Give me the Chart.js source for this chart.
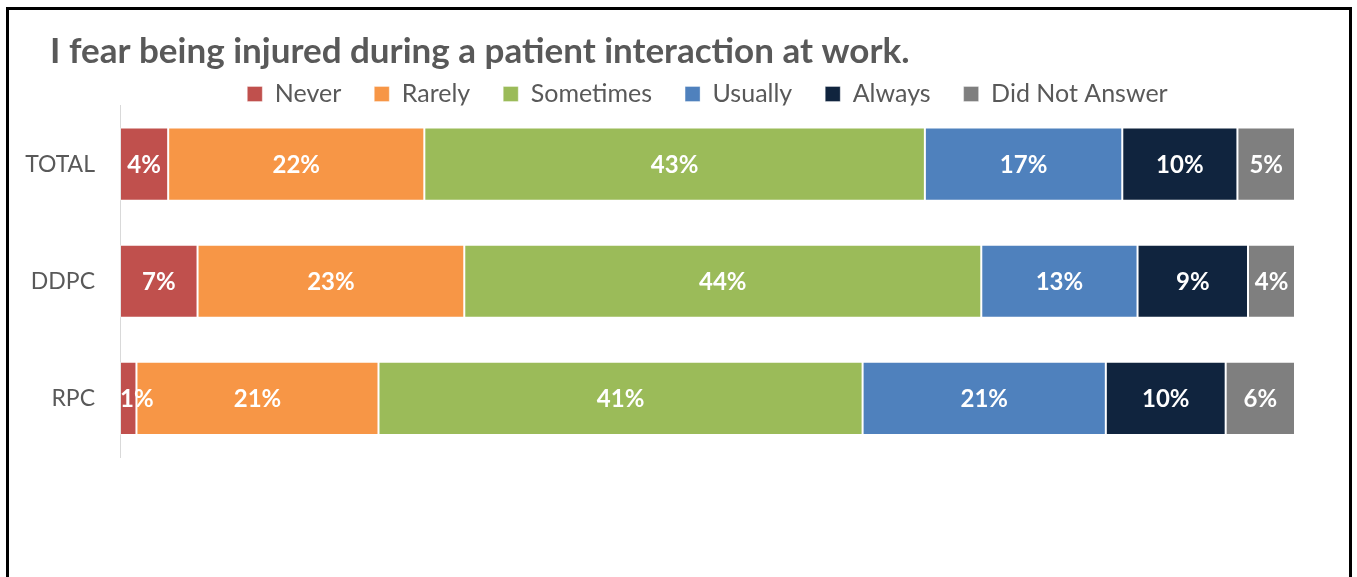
<!DOCTYPE html>
<html>
<head>
<meta charset="utf-8">
<script src="https://cdn.jsdelivr.net/npm/chart.js@4.4.1/dist/chart.umd.min.js"></script>
<style>
  html, body { margin: 0; padding: 0; background: #ffffff; overflow: hidden; }
  #wrap { position: relative; width: 1357px; height: 577px; }
  #c { position: absolute; left: 0; top: 0; }
  #frame { position: absolute; left: 6px; top: 7px; width: 1340px; height: 640px; border: 3px solid #000; pointer-events: none; }
</style>
</head>
<body>
<div id="wrap">
  <canvas id="c" width="1357" height="577"></canvas>
  <div id="frame"></div>
</div>
<script>
const titleText = "I fear being injured during a patient interaction at work.";
const categories = ["TOTAL", "DDPC", "RPC"];
const seriesNames = ["Never", "Rarely", "Sometimes", "Usually", "Always", "Did Not Answer"];
const never     = [4.1, 6.6, 1.4];
const rarely    = [21.8, 22.7, 20.6];
const sometimes = [42.6, 44.0, 41.2];
const usually   = [16.8, 13.3, 20.7];
const always    = [9.8, 9.4, 10.2];
const didNotAnswer = [4.9, 4.0, 5.9];
const seriesColors = ["#C0504D", "#F79646", "#9BBB59", "#4F81BD", "#10243E", "#7F7F7F"];

const seriesValues = [never, rarely, sometimes, usually, always, didNotAnswer];
const FONT = "Lato, 'Open Sans', sans-serif";

const dataLabels = {
  id: 'dataLabels',
  afterDatasetsDraw(chart) {
    const ctx = chart.ctx;
    const area = chart.chartArea;
    ctx.save();
    ctx.font = "bold 24px " + FONT;
    ctx.fillStyle = "#ffffff";
    ctx.textBaseline = "middle";
    ctx.textAlign = "left";
    chart.data.datasets.forEach((ds, di) => {
      const meta = chart.getDatasetMeta(di);
      meta.data.forEach((el, i) => {
        const txt = Math.round(ds.data[i]) + "%";
        const w = ctx.measureText(txt).width;
        const cx = (el.x + el.base) / 2;
        let left = cx - w / 2;
        if (left < area.left) left = area.left;
        ctx.fillText(txt, left, el.y + 1);
      });
    });
    ctx.restore();
  }
};

const titleShift = {
  id: 'titleShift',
  afterLayout(chart) {
    if (chart.titleBlock) { chart.titleBlock.left = 50; }
  }
};

new Chart(document.getElementById('c'), {
  type: 'bar',
  data: {
    labels: categories,
    datasets: seriesNames.map((n, k) => ({
      label: n,
      data: seriesValues[k],
      backgroundColor: seriesColors[k],
      borderColor: 'rgba(255,255,255,0.35)',
      borderWidth: 1,
      borderSkipped: false,
      categoryPercentage: 1.0,
      barPercentage: 0.624
    }))
  },
  options: {
    indexAxis: 'y',
    responsive: false,
    animation: false,
    devicePixelRatio: 1,
    layout: { padding: { left: 0, right: 62, top: 0, bottom: 120 } },
    scales: {
      x: { stacked: true, min: 0, max: 100, display: false },
      y: {
        stacked: true,
        grid: { display: false, drawTicks: false },
        border: { display: true, color: '#d9d9d9', width: 1 },
        ticks: { color: '#595959', font: { family: FONT, size: 23 }, padding: 25 },
        afterFit(scale) { scale.width = 120; }
      }
    },
    plugins: {
      title: {
        display: true,
        text: titleText,
        align: 'start',
        color: '#595959',
        font: { family: FONT, size: 35, weight: 'bold' },
        padding: { top: 30.5, bottom: -24 }
      },
      legend: {
        display: true,
        position: 'top',
        fullSize: false,
        maxHeight: 57,
        labels: {
          color: '#595959',
          font: { family: FONT, size: 25 },
          boxWidth: 15,
          boxHeight: 15,
          padding: 33
        }
      },
      tooltip: { enabled: false }
    }
  },
  plugins: [dataLabels, titleShift]
});
</script>
</body>
</html>
